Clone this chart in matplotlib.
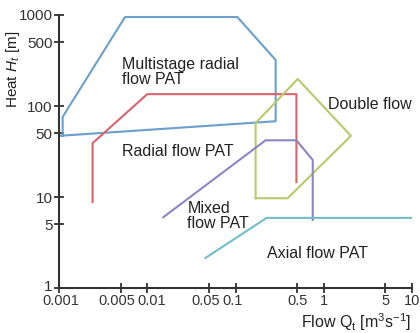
import matplotlib
matplotlib.use("Agg")
import matplotlib.pyplot as plt
from matplotlib.transforms import ScaledTranslation

# Operating envelopes (flow in m^3/s, head in m).
MULTI_Q = [0.001, 0.285, 0.285, 0.105, 0.0056, 0.0011, 0.0011]
MULTI_H = [47, 68, 320, 950, 950, 76, 47.2]

RADIAL_Q = [0.0024, 0.0024, 0.01, 0.49, 0.49]
RADIAL_H = [8.8, 39, 135, 135, 14.6]

DOUBLE_Q = [0.169, 0.169, 0.507, 2.03, 0.39, 0.169]
DOUBLE_H = [9.7, 65, 198, 47, 9.7, 9.7]

MIXED_Q = [0.0152, 0.219, 0.49, 0.75, 0.75]
MIXED_H = [6.0, 42, 42, 25.5, 5.6]

AXIAL_Q = [0.0456, 0.225, 10]
AXIAL_H = [2.14, 5.9, 5.9]

X_TICKS = [0.001, 0.005, 0.01, 0.05, 0.1, 0.5, 1, 5, 10]
X_LABELS = ["0.001", "0.005", "0.01", "0.05", "0.1", "0.5", "1", "5", "10"]
Y_TICKS = [1, 5, 10, 50, 100, 500, 1000]
Y_LABELS = ["1", "5", "10", "50", "100", "500", "1000"]

plt.rcParams["font.family"] = ["Liberation Sans", "DejaVu Sans"]
plt.rcParams["mathtext.fontset"] = "custom"
plt.rcParams["mathtext.rm"] = "Liberation Sans"
plt.rcParams["mathtext.it"] = "Liberation Sans:italic"

fig = plt.figure(figsize=(4.2, 3.33), dpi=100)
ax = fig.add_axes([0.1405, 0.135, 0.8405, 0.82])

lw = 1.5
ax.plot(MULTI_Q, MULTI_H, color="#6b9fcc", lw=lw)
ax.plot(RADIAL_Q, RADIAL_H, color="#d9646c", lw=lw)
ax.plot(DOUBLE_Q, DOUBLE_H, color="#b8c86c", lw=lw)
ax.plot(MIXED_Q, MIXED_H, color="#8c85c2", lw=lw)
ax.plot(AXIAL_Q, AXIAL_H, color="#72bccb", lw=lw)

ax.set_xscale("log")
ax.set_yscale("log")
ax.set_xlim(0.001, 10)
ax.set_ylim(1, 1000)
ax.minorticks_off()
ax.set_xticks(X_TICKS, X_LABELS)
ax.set_yticks(Y_TICKS, Y_LABELS)
ax.tick_params(direction="inout", length=7, width=1.3, colors="#333333",
               labelcolor="#333333", pad=1)
ax.tick_params(axis="x", labelsize=10.5)
ax.tick_params(axis="y", labelsize=11)
for s in ["top", "right"]:
    ax.spines[s].set_visible(False)
for s in ["left", "bottom"]:
    ax.spines[s].set_linewidth(1.5)
    ax.spines[s].set_color("#333333")

# Nudge crowded tick labels apart, like the original layout (pixels).
def nudge(label, dx, dy):
    off = ScaledTranslation(dx / 100, dy / 100, fig.dpi_scale_trans)
    label.set_transform(label.get_transform() + off)

xl = ax.get_xticklabels()
nudge(xl[0], 2, 0)
nudge(xl[1], -4, 0)
nudge(xl[2], 4, 0)
nudge(xl[3], -3, 0)
nudge(xl[4], -3, 0)
nudge(ax.get_yticklabels()[0], 0, 3)

tc = "#222222"
fs = 11.5
ax.text(0.0052, 239, "Multistage radial\nflow PAT", fontsize=fs, color=tc,
        va="center", linespacing=1.0)
ax.text(0.0052, 32, "Radial flow PAT", fontsize=fs, color=tc, va="center")
ax.text(1.11, 105, "Double flow", fontsize=fs, color=tc, va="center")
ax.text(0.0285, 6.2, "Mixed\nflow PAT", fontsize=fs, color=tc, va="center",
        linespacing=1.0)
ax.text(0.225, 2.42, "Axial flow PAT", fontsize=fs, color=tc, va="center")

fig.text(0.03, 1 - 69 / 333, "Heat $H_t$ [m]", rotation=90, fontsize=11,
         color=tc, ha="center", va="center")
fig.text(411 / 420, 1 - 322 / 333, "Flow Q$_\\mathrm{t}$ [m$^3$s$^{-1}$]",
         fontsize=11.5, color=tc, ha="right", va="center")

fig.savefig("out.png", dpi=100)
